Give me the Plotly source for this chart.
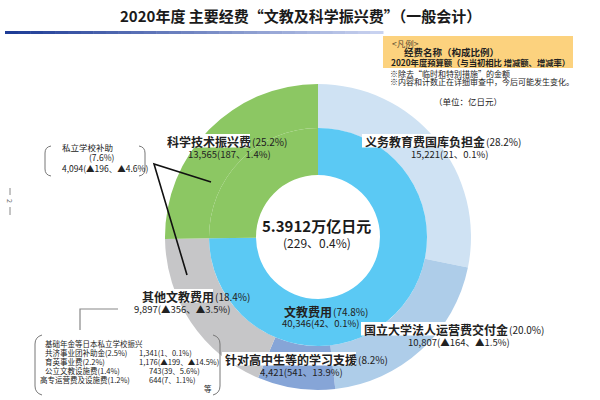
import plotly.graph_objects as go

# ---------------- data ----------------
outer_names = ["义务教育费国库负担金", "国立大学法人运营费交付金", "针对高中生等的学习支援", "其他文教费用", "科学技术振兴费"]
outer_shares = [28.2, 20.0, 8.2, 18.4, 25.2]
outer_amounts = ["15,221", "10,807", "4,421", "9,897", "13,565"]
outer_changes = ["21、0.1%", "▲164、▲1.5%", "541、13.9%", "▲356、▲3.5%", "187、1.4%"]

inner_names = ["文教费用", "科学技术振兴费"]
inner_shares = [74.8, 25.2]
inner_amounts = ["40,346", "13,565"]
inner_changes = ["42、0.1%", "187、1.4%"]

total_label = "5.3912万亿日元"
total_change = "229、0.4%"

private_name = "私立学校补助"
private_share = 7.6
private_amount = "4,094"
private_change = "▲196、▲4.6%"

other_items = ["基础年金等日本私立学校振兴\n共济事业团补助金", "育英事业费", "公立文教设施费", "高专运营费及设施费"]
other_shares = [2.5, 2.2, 1.4, 1.2]
other_amounts = ["1,341", "1,176", "743", "644"]
other_changes = ["1、0.1%", "▲199、▲14.5%", "39、5.6%", "7、1.1%"]

# ---------------- style ----------------
W, H = 600, 400
FONT = "Noto Sans CJK SC"
outer_colors = ["#cfe2f3", "#aecde9", "#86a5d7", "#c6c6c8", "#8cc763"]
inner_colors = ["#5bc9f4", "#8cc763"]
CX, CY = 318, 237
R_OUT, R_MID, R_IN = 153, 109, 62


def dom(r):
    return dict(x=[(CX - r) / W, (CX + r) / W], y=[1 - (CY + r) / H, 1 - (CY - r) / H])


fig = go.Figure()
fig.add_trace(go.Pie(values=outer_shares, labels=outer_names, marker=dict(colors=outer_colors, line=dict(width=0)),
                     sort=False, direction="clockwise", rotation=0, hole=R_MID / R_OUT,
                     textinfo="none", hoverinfo="skip", domain=dom(R_OUT), showlegend=False))
fig.add_trace(go.Pie(values=inner_shares, labels=inner_names, marker=dict(colors=inner_colors, line=dict(width=0)),
                     sort=False, direction="clockwise", rotation=0, hole=R_IN / R_MID,
                     textinfo="none", hoverinfo="skip", domain=dom(R_MID), showlegend=False))

ann = []
shapes = []


def text(x, y, s, size=10, bold=False, anchor="left", color="#222"):
    ann.append(dict(x=x, y=y, xref="x", yref="y", text=("<b>%s</b>" % s) if bold else s, showarrow=False,
                    xanchor=anchor, yanchor="middle", font=dict(family=FONT, size=size, color=color)))


def label(x0, y0, name, share, numx, numy, amount, change, white=True):
    wname = 12 * len(name)
    if white:
        shapes.append(dict(type="rect", xref="x", yref="y", x0=x0 - 1, x1=x0 + wname + 1, y0=y0 - 7, y1=y0 + 6.5,
                           fillcolor="white", line=dict(width=0), layer="above"))
    text(x0, y0, name, size=12, bold=True)
    text(x0 + wname + 1, y0, "(%.1f%%)" % share, size=10)
    text(numx, numy, "%s(%s)" % (amount, change), size=9.5, anchor="center")


# title
text(300, 15, "2020年度 主要经费“文教及科学振兴费”（一般会计）", size=15, bold=True, anchor="center", color="#1a1a1a")
N = 30
for i in range(N):
    t = i / (N - 1)
    c = (int(30 + t * 170), int(60 + t * 150), int(150 + t * 90))
    x0 = 5 + i * (378 / N)
    shapes.append(dict(type="rect", xref="x", yref="y", x0=x0, x1=x0 + 378 / N + 0.5, y0=31, y1=34,
                       fillcolor="rgb(%d,%d,%d)" % c, line=dict(width=0)))

# legend box
shapes.append(dict(type="rect", xref="x", yref="y", x0=383, x1=573, y0=36, y1=68, fillcolor="#fcd27e", line=dict(width=0)))
text(390, 43, "&lt;凡例&gt;", size=8.5, color="#5a4a30")
text(451, 52, "经费名称（构成比例）", size=9.5, bold=True, anchor="center")
text(480, 62, "2020年度预算额（与当初相比 增减额、增减率）", size=8.3, bold=True, anchor="center")
text(388, 73, "※除去“临时和特别措施”的金额", size=8)
text(388, 81, "※内容和计数正在详细审查中，今后可能发生变化。", size=8)
text(468, 101, "（单位：亿日元）", size=8.5, anchor="center")

# page marker
text(10, 201, "2", size=7, anchor="center", color="#666")
ann[-1]["textangle"] = 90
shapes.append(dict(type="line", xref="x", yref="y", x0=10, x1=10, y0=188, y1=195, line=dict(color="#888", width=1)))
shapes.append(dict(type="line", xref="x", yref="y", x0=10, x1=10, y0=207, y1=215, line=dict(color="#888", width=1)))

# center
text(316, 225, total_label, size=15, bold=True, anchor="center", color="#1a1a1a")
text(317, 242, "(%s)" % total_change, size=12, anchor="center")

# ring labels
label(165, 141, outer_names[4], outer_shares[4], 229, 154, outer_amounts[4], outer_changes[4])
label(363, 141, outer_names[0], outer_shares[0], 449, 154, outer_amounts[0], outer_changes[0])
label(282, 311, inner_names[0], inner_shares[0], 320, 323, inner_amounts[0], inner_changes[0], white=False)
label(362, 329, outer_names[1], outer_shares[1], 459, 342, outer_amounts[1], outer_changes[1])
label(223, 359, outer_names[2], outer_shares[2], 301, 372, outer_amounts[2], outer_changes[2])
label(140, 296, outer_names[3], outer_shares[3], 182, 309, outer_amounts[3], outer_changes[3])

# private school subsidy callout
text(60, 147, private_name, size=8.5)
text(102, 157, "(%.1f%%)" % private_share, size=8.5, anchor="center")
text(60, 168, "%s(%s)" % (private_amount, private_change), size=8.5)
shapes.append(dict(type="path", xref="x", yref="y", path="M 51,146 Q 45,147 45,153 L 45,169 Q 45,175 51,176",
                   line=dict(color="#777", width=1)))
shapes.append(dict(type="path", xref="x", yref="y", path="M 139,146 Q 145,147 145,153 L 145,169 Q 145,175 139,176",
                   line=dict(color="#777", width=1)))
shapes.append(dict(type="path", xref="x", yref="y", path="M 211,182 L 154,164 L 187,275",
                   line=dict(color="#111", width=1.6)))

# other items callout
shapes.append(dict(type="path", xref="x", yref="y", path="M 118,309 L 80,309 L 80,330",
                   line=dict(color="#888", width=1.2)))
shapes.append(dict(type="path", xref="x", yref="y", path="M 42,335 Q 35,337 35,344 L 35,386 Q 35,393 42,395",
                   line=dict(color="#777", width=1)))
shapes.append(dict(type="path", xref="x", yref="y", path="M 213,335 Q 220,337 220,344 L 220,386 Q 220,393 213,395",
                   line=dict(color="#777", width=1)))
rows_y = [352, 361, 370, 379]
rows_x = [43, 43, 43, 38]
nums_x = [137, 137, 147, 147]
text(43, 343, other_items[0].split("\n")[0], size=7.5)
for i in range(4):
    nm = other_items[i].split("\n")[-1]
    text(rows_x[i], rows_y[i], "%s(%.1f%%)" % (nm, other_shares[i]), size=7.5)
    text(nums_x[i], rows_y[i], "%s(%s)" % (other_amounts[i], other_changes[i]), size=7.5)
text(202, 388, "等", size=7.5)

fig.update_layout(
    width=W, height=H, margin=dict(l=0, r=0, t=0, b=0),
    paper_bgcolor="white", plot_bgcolor="rgba(0,0,0,0)",
    xaxis=dict(range=[0, W], visible=False, fixedrange=True),
    yaxis=dict(range=[H, 0], visible=False, fixedrange=True),
    annotations=ann, shapes=shapes, showlegend=False,
)
fig.write_html("out.html", config={"displayModeBar": False, "staticPlot": True},
               post_script="document.body.style.margin='0px';document.body.style.overflow='hidden';")
